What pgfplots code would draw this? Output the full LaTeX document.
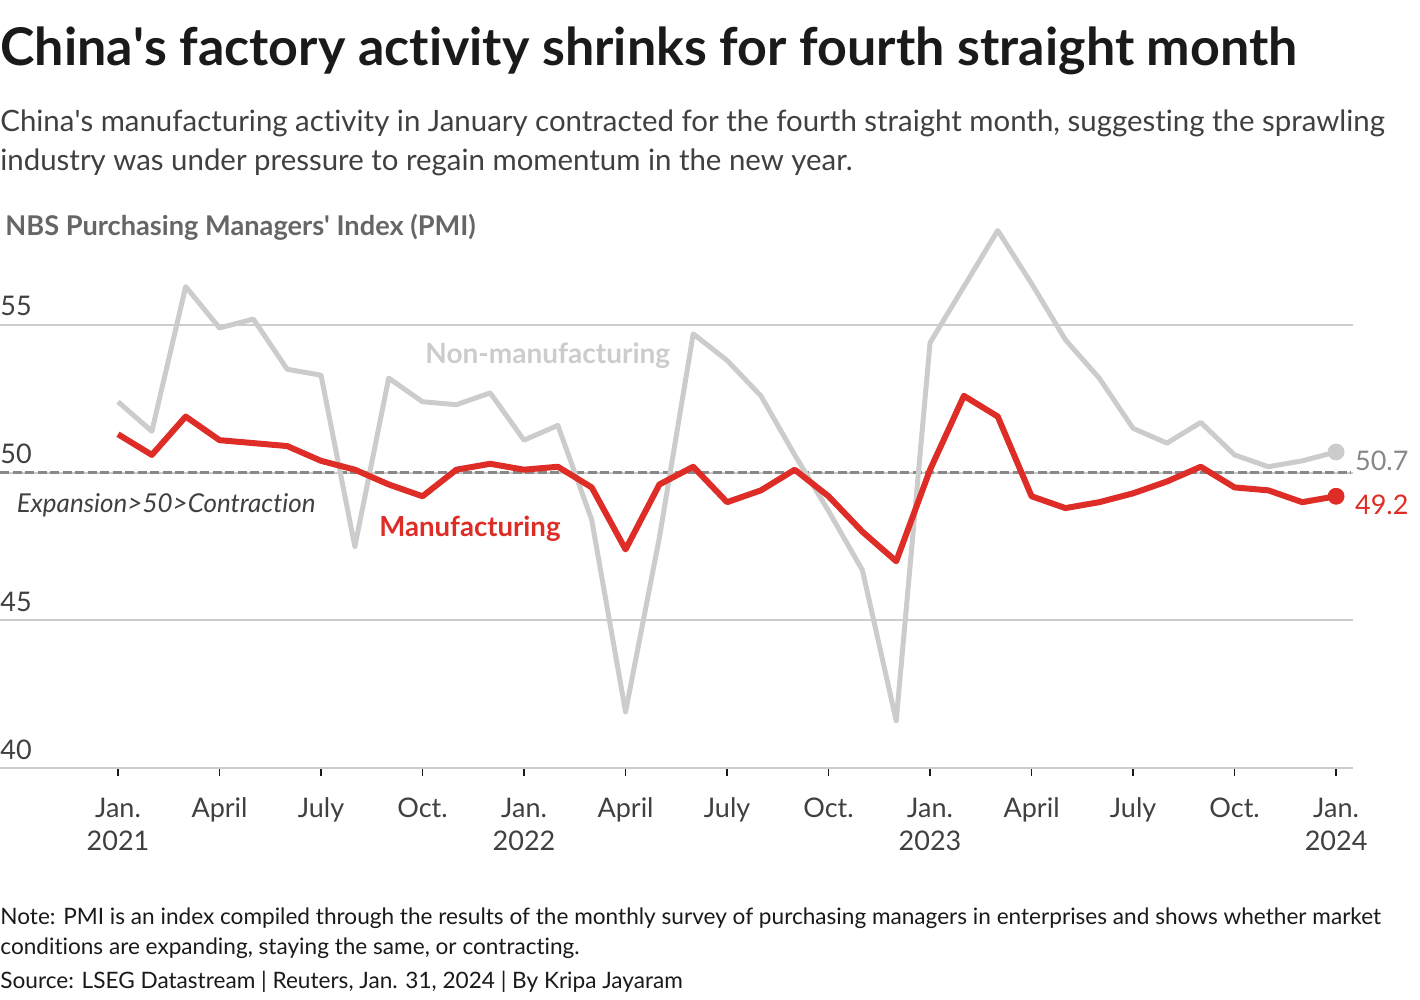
\documentclass[border=0pt]{standalone}
\usepackage{pgfplots}
\pgfplotsset{compat=1.18}
\usepackage{fontspec}
\setmainfont{Lato}[Ligatures=NoCommon]
\definecolor{mred}{HTML}{DE2D26}
\definecolor{mgray}{HTML}{CCCCCC}
\definecolor{dgray}{HTML}{888888}
\definecolor{titlec}{HTML}{1A1A1A}
\definecolor{subc}{HTML}{404040}
\definecolor{labc}{HTML}{666666}

\pgfplotstableread{
m mfg nonmfg
0 51.3 52.4
1 50.6 51.4
2 51.9 56.3
3 51.1 54.9
4 51.0 55.2
5 50.9 53.5
6 50.4 53.3
7 50.1 47.5
8 49.6 53.2
9 49.2 52.4
10 50.1 52.3
11 50.3 52.7
12 50.1 51.1
13 50.2 51.6
14 49.5 48.4
15 47.4 41.9
16 49.6 47.8
17 50.2 54.7
18 49.0 53.8
19 49.4 52.6
20 50.1 50.6
21 49.2 48.7
22 48.0 46.7
23 47.0 41.6
24 50.1 54.4
25 52.6 56.3
26 51.9 58.2
27 49.2 56.4
28 48.8 54.5
29 49.0 53.2
30 49.3 51.5
31 49.7 51.0
32 50.2 51.7
33 49.5 50.6
34 49.4 50.2
35 49.0 50.4
36 49.2 50.7
}\pmidata

\begin{document}
\begin{tikzpicture}[x=0.5pt,y=0.5pt]
\useasboundingbox (0,0) rectangle (1420,-1000);
\node[anchor=base west,inner sep=0,font=\fontsize{26}{30}\selectfont\bfseries,text=titlec] at (0,-66) {China\textquotesingle s factory activity shrinks for fourth straight month};
\node[anchor=base west,inner sep=0,font=\fontsize{14.7}{19.5}\selectfont,text=subc] at (0,-132) {China\textquotesingle s manufacturing activity in January contracted for the fourth straight month, suggesting the sprawling};
\node[anchor=base west,inner sep=0,font=\fontsize{14.7}{19.5}\selectfont,text=subc] at (0,-171) {industry was under pressure to regain momentum in the new year.};
\node[anchor=base west,inner sep=0,font=\fontsize{13.6}{16}\selectfont\bfseries,text=labc] at (5,-236) {NBS Purchasing Managers\textquotesingle\ Index (PMI)};

\node[anchor=base west,inner sep=0,font=\fontsize{11.3}{15}\selectfont,text=titlec] at (0,-924) {Note: PMI is an index compiled through the results of the monthly survey of purchasing managers in enterprises and shows whether market};
\node[anchor=base west,inner sep=0,font=\fontsize{11.3}{15}\selectfont,text=titlec] at (0,-954) {conditions are expanding, staying the same, or contracting.};
\node[anchor=base west,inner sep=0,font=\fontsize{11.3}{15}\selectfont,text=titlec] at (0,-988) {Source: LSEG Datastream | Reuters, Jan. 31, 2024 | By Kripa Jayaram};

\begin{axis}[
  at={(0pt,-384pt)}, anchor=south west,
  scale only axis, width=676.5pt, height=273.2pt,
  xmin=-3.488, xmax=36.5, ymin=40, ymax=58.5,
  axis x line*=bottom, axis y line*=left,
  y axis line style={draw=none},
  x axis line style={draw=mgray, line width=1pt},
  xtick={0,3,...,36},
  xticklabels={{Jan.\\2021},April,July,Oct.,{Jan.\\2022},April,July,Oct.,{Jan.\\2023},April,July,Oct.,{Jan.\\2024}},
  xticklabel style={align=center, font=\fontsize{13.5}{16.5}\selectfont, text=subc, yshift=-7.5pt},
  x tick style={draw=titlec, line width=0.8pt},
  tick align=outside, major tick length=4pt,
  ytick={40,45,50,55},
  yticklabels={},
  y tick style={draw=none},
  ymajorgrids, grid style={draw=mgray, line width=1pt},
  clip=false,
]
\node[anchor=base west, inner sep=0pt, font=\fontsize{13.5}{16}\selectfont, text=subc, yshift=4.5pt] at (axis cs:-3.488,40) {40};
\node[anchor=base west, inner sep=0pt, font=\fontsize{13.5}{16}\selectfont, text=subc, yshift=4.5pt] at (axis cs:-3.488,45) {45};
\node[anchor=base west, inner sep=0pt, font=\fontsize{13.5}{16}\selectfont, text=subc, yshift=4.5pt] at (axis cs:-3.488,50) {50};
\node[anchor=base west, inner sep=0pt, font=\fontsize{13.5}{16}\selectfont, text=subc, yshift=4.5pt] at (axis cs:-3.488,55) {55};
\draw[dgray, line width=1.5pt, dash pattern=on 4.5pt off 1.75pt] (axis cs:-3.488,50) -- (axis cs:36.45,50);
\addplot[mgray, line width=2.5pt, line join=round] table[x=m,y=nonmfg] {\pmidata};
\addplot[mred, line width=3pt, line join=round] table[x=m,y=mfg] {\pmidata};
\addplot[mgray, only marks, mark=*, mark size=4pt, mark options={fill=mgray,draw=mgray}] coordinates {(36,50.7)};
\addplot[mred, only marks, mark=*, mark size=4pt, mark options={fill=mred,draw=mred}] coordinates {(36,49.2)};
\node[anchor=west, font=\fontsize{13.5}{16}\selectfont, text=dgray, inner sep=0] at (axis cs:36.55,50.4) {50.7};
\node[anchor=west, font=\fontsize{13.5}{16}\selectfont, text=mred, inner sep=0] at (axis cs:36.55,48.9) {49.2};
\node[font=\fontsize{14}{16}\selectfont\bfseries, text=mgray] at (axis cs:12.7,53.95) {Non-manufacturing};
\node[font=\fontsize{13.8}{16}\selectfont\bfseries, text=mred] at (axis cs:10.4,48.1) {Manufacturing};
\node[anchor=west, font=\fontsize{13}{16}\selectfont\itshape, text=subc, inner sep=0] at (axis cs:-3.0,48.9) {Expansion>50>Contraction};
\end{axis}
\end{tikzpicture}
\end{document}
